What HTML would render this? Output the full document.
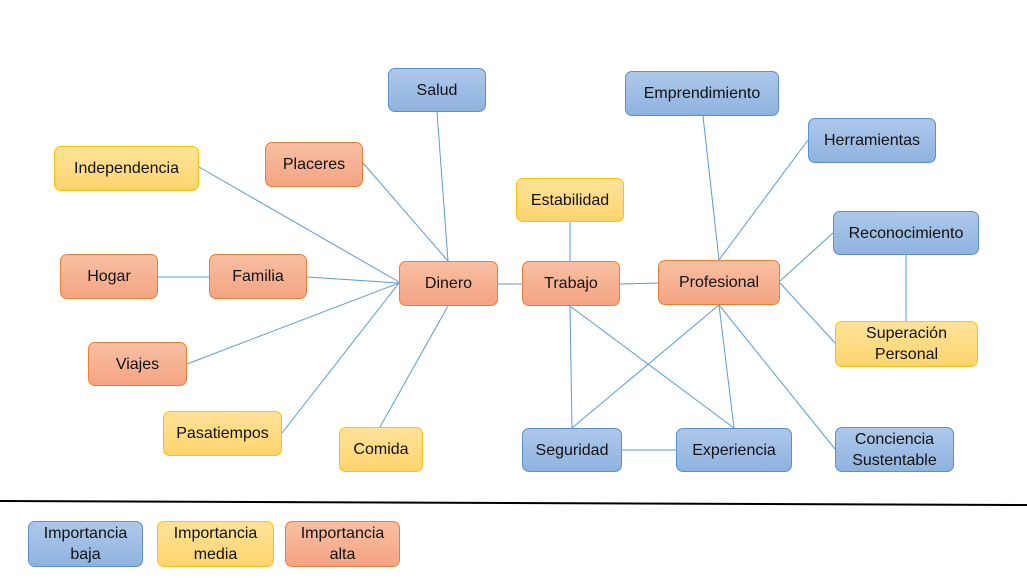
<!DOCTYPE html>
<html><head><meta charset="utf-8"><style>
body{margin:0;width:1027px;height:578px;background:#fff;position:relative;overflow:hidden;font-family:"Liberation Sans",sans-serif}
.b{position:absolute;box-sizing:border-box;border-radius:7px;display:flex;align-items:center;justify-content:center;text-align:center;font-size:16px;line-height:21px;color:#111}
.o{background:linear-gradient(#f8c0a4,#f4a482);border:1px solid #ed7d31}
.u{background:linear-gradient(#aec8ea,#8fb3e0);border:1px solid #5b8fcf}
.y{background:linear-gradient(#ffe39a,#ffd46e);border:1px solid #ffc000}
svg{position:absolute;left:0;top:0}
</style></head><body>
<svg width="1027" height="578"><g stroke="#5b9bd5" stroke-width="1" fill="none">
<line x1="437" y1="112" x2="448" y2="261"/>
<line x1="199" y1="167" x2="399" y2="282"/>
<line x1="363" y1="163" x2="448" y2="261"/>
<line x1="307" y1="277" x2="399" y2="283"/>
<line x1="158" y1="277" x2="209" y2="277"/>
<line x1="187" y1="364" x2="399" y2="283"/>
<line x1="282" y1="433" x2="399" y2="283"/>
<line x1="380" y1="427" x2="448" y2="306"/>
<line x1="498" y1="284" x2="522" y2="284"/>
<line x1="570" y1="222" x2="570" y2="261"/>
<line x1="620" y1="284" x2="658" y2="283"/>
<line x1="703" y1="116" x2="719" y2="260"/>
<line x1="808" y1="140" x2="719" y2="260"/>
<line x1="833" y1="233" x2="780" y2="281"/>
<line x1="835" y1="343" x2="780" y2="283"/>
<line x1="906" y1="255" x2="906" y2="321"/>
<line x1="835" y1="449" x2="719" y2="305"/>
<line x1="719" y1="305" x2="572" y2="428"/>
<line x1="719" y1="305" x2="734" y2="428"/>
<line x1="570" y1="306" x2="572" y2="428"/>
<line x1="570" y1="306" x2="734" y2="428"/>
<line x1="622" y1="450" x2="676" y2="450"/>
</g>
<line x1="0" y1="501" x2="1027" y2="505" stroke="#000" stroke-width="2"/>
</svg>
<div class="b u" style="left:388px;top:68px;width:98px;height:44px">Salud</div>
<div class="b u" style="left:625px;top:71px;width:154px;height:45px">Emprendimiento</div>
<div class="b u" style="left:808px;top:118px;width:128px;height:45px">Herramientas</div>
<div class="b y" style="left:54px;top:146px;width:145px;height:45px">Independencia</div>
<div class="b o" style="left:265px;top:142px;width:98px;height:45px">Placeres</div>
<div class="b y" style="left:516px;top:178px;width:108px;height:44px">Estabilidad</div>
<div class="b u" style="left:833px;top:211px;width:146px;height:44px">Reconocimiento</div>
<div class="b o" style="left:60px;top:254px;width:98px;height:45px">Hogar</div>
<div class="b o" style="left:209px;top:254px;width:98px;height:45px">Familia</div>
<div class="b o" style="left:399px;top:261px;width:99px;height:45px">Dinero</div>
<div class="b o" style="left:522px;top:261px;width:98px;height:45px">Trabajo</div>
<div class="b o" style="left:658px;top:260px;width:122px;height:45px">Profesional</div>
<div class="b y" style="left:835px;top:321px;width:143px;height:46px">Superación<br>Personal</div>
<div class="b o" style="left:88px;top:342px;width:99px;height:44px">Viajes</div>
<div class="b y" style="left:163px;top:411px;width:119px;height:45px">Pasatiempos</div>
<div class="b y" style="left:339px;top:427px;width:84px;height:45px">Comida</div>
<div class="b u" style="left:522px;top:428px;width:100px;height:44px">Seguridad</div>
<div class="b u" style="left:676px;top:428px;width:116px;height:44px">Experiencia</div>
<div class="b u" style="left:835px;top:427px;width:119px;height:45px">Conciencia<br>Sustentable</div>
<div class="b u" style="left:28px;top:521px;width:115px;height:46px">Importancia<br>baja</div>
<div class="b y" style="left:157px;top:521px;width:117px;height:46px">Importancia<br>media</div>
<div class="b o" style="left:285px;top:521px;width:115px;height:46px">Importancia<br>alta</div>
</body></html>
